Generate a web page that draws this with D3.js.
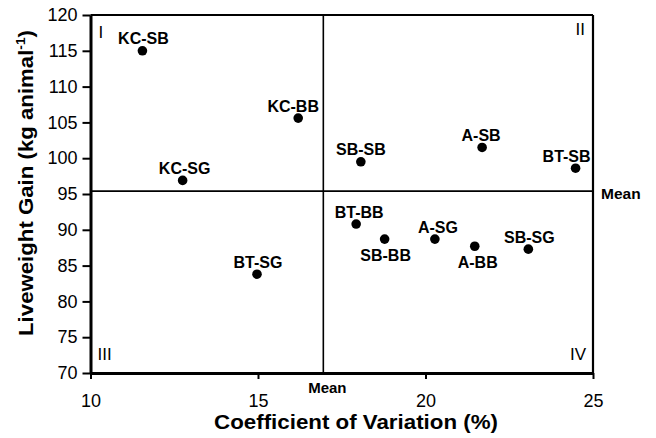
<!DOCTYPE html>
<html>
<head>
<meta charset="utf-8">
<script src="https://cdn.jsdelivr.net/npm/d3@7"></script>
<style>
  html, body { margin: 0; padding: 0; background: #fff; }
  svg { display: block; font-family: "Liberation Sans", Arial, Helvetica, sans-serif; }
</style>
</head>
<body>
<svg id="chart" width="656" height="438"></svg>
<script>
// ---- data ----
const treatments = ["KC-SB", "KC-BB", "KC-SG", "SB-SB", "A-SB", "BT-SB", "BT-SG", "BT-BB", "SB-BB", "A-SG", "A-BB", "SB-SG"];
const cv        = [11.55, 16.2, 12.75, 18.07, 21.69, 24.48, 14.97, 17.93, 18.78, 20.28, 21.47, 23.07];
const gain      = [115.0, 105.6, 96.9, 99.5, 101.5, 98.6, 83.8, 90.8, 88.7, 88.7, 87.7, 87.3];
const labelSide = ["above", "above", "above", "above", "above", "above", "above", "above", "below", "above", "below", "above"];
const labelShift = [1, -5, 2, 0, -1, -9, 1, 3, 1, 3, 3, 1];
const meanCV = 16.95;
const meanGain = 95.4;
const xTicks = [10, 15, 20, 25];
const yTicks = [70, 75, 80, 85, 90, 95, 100, 105, 110, 115, 120];
const quadrants = ["I", "II", "III", "IV"];

// ---- layout ----
const svg = d3.select("#chart");
const x = d3.scaleLinear().domain([10, 25]).range([90.5, 593]);
const y = d3.scaleLinear().domain([70, 120]).range([373, 15]);

function fitWidth(sel, target) {
  sel.each(function () {
    const len = this.getComputedTextLength();
    const s = target / len;
    const t = d3.select(this);
    const ax = +t.attr("x"), ay = +t.attr("y");
    t.attr("transform", `translate(${ax},${ay}) scale(${s},1) translate(${-ax},${-ay})`);
  });
}

// frame (top, right)
svg.append("line").attr("x1", x(10)).attr("x2", x(25)).attr("y1", y(120)).attr("y2", y(120))
  .attr("stroke", "#000").attr("stroke-width", 2.2);
svg.append("line").attr("x1", x(25)).attr("x2", x(25)).attr("y1", y(120)).attr("y2", y(70))
  .attr("stroke", "#000").attr("stroke-width", 2.2);

// mean lines
svg.append("line").attr("x1", x(10)).attr("x2", x(25)).attr("y1", y(meanGain)).attr("y2", y(meanGain))
  .attr("stroke", "#000").attr("stroke-width", 1.6);
svg.append("line").attr("x1", x(meanCV)).attr("x2", x(meanCV)).attr("y1", y(120)).attr("y2", y(70))
  .attr("stroke", "#000").attr("stroke-width", 1.6);

// axes
const yAxis = svg.append("g").attr("transform", `translate(${x(10)},0)`)
  .call(d3.axisLeft(y).tickValues(yTicks).tickSize(8).tickSizeOuter(0).tickPadding(5));
const xAxis = svg.append("g").attr("transform", `translate(0,${y(70)})`)
  .call(d3.axisBottom(x).tickValues(xTicks).tickSize(6).tickSizeOuter(0).tickPadding(15));
[yAxis, xAxis].forEach(g => {
  g.select(".domain").attr("stroke", "#000").attr("stroke-width", 3);
  g.selectAll(".tick line").attr("stroke", "#000").attr("stroke-width", 2);
  g.selectAll(".tick text").attr("font-size", 18).attr("fill", "#000")
    .attr("font-family", "'Liberation Sans', Arial, sans-serif");
});

// points
svg.append("g").selectAll("circle").data(treatments).join("circle")
  .attr("cx", (d, i) => x(cv[i])).attr("cy", (d, i) => y(gain[i])).attr("r", 4.8).attr("fill", "#000");

// point labels
svg.append("g").selectAll("text").data(treatments).join("text")
  .attr("x", (d, i) => x(cv[i]) + labelShift[i])
  .attr("y", (d, i) => y(gain[i]) + (labelSide[i] === "above" ? -6.5 : 21.5))
  .attr("text-anchor", "middle").attr("font-size", 16).attr("font-weight", "bold").attr("fill", "#000")
  .text(d => d);

// mean labels
svg.append("text").attr("x", x(meanCV) + 4).attr("y", 393).attr("text-anchor", "middle")
  .attr("font-size", 15).attr("font-weight", "bold").text("Mean");
svg.append("text").attr("x", x(25) + 8).attr("y", y(meanGain) + 8).attr("text-anchor", "start")
  .attr("font-size", 15.5).attr("font-weight", "bold").text("Mean");

// quadrant numerals
const qPos = [
  { cx: 10, cy: 120, dx: 8, dy: 23, anchor: "start" },
  { cx: 25, cy: 120, dx: -8, dy: 20, anchor: "end" },
  { cx: 10, cy: 70, dx: 7, dy: -13, anchor: "start" },
  { cx: 25, cy: 70, dx: -7, dy: -13, anchor: "end" }
];
svg.append("g").selectAll("text").data(quadrants).join("text")
  .attr("x", (d, i) => x(qPos[i].cx) + qPos[i].dx)
  .attr("y", (d, i) => y(qPos[i].cy) + qPos[i].dy)
  .attr("text-anchor", (d, i) => qPos[i].anchor)
  .attr("font-size", 17).attr("fill", "#000").text(d => d);

// axis titles
const xt = svg.append("text").attr("x", 356).attr("y", 429).attr("text-anchor", "middle")
  .attr("font-size", 21).attr("font-weight", "bold").text("Coefficient of Variation (%)");
fitWidth(xt, 284);

const yt = svg.append("text").attr("x", 0).attr("y", 0)
  .attr("text-anchor", "middle").attr("font-size", 21).attr("font-weight", "bold");
yt.append("tspan").text("Liveweight Gain (kg animal");
yt.append("tspan").attr("font-size", 13).attr("dy", -8).text("-1");
yt.append("tspan").attr("dy", 8).text(")");
{
  const len = yt.node().getComputedTextLength();
  const s = 306 / len;
  yt.attr("transform", `translate(33,183) rotate(-90) scale(${s},1)`);
}
</script>
</body>
</html>
